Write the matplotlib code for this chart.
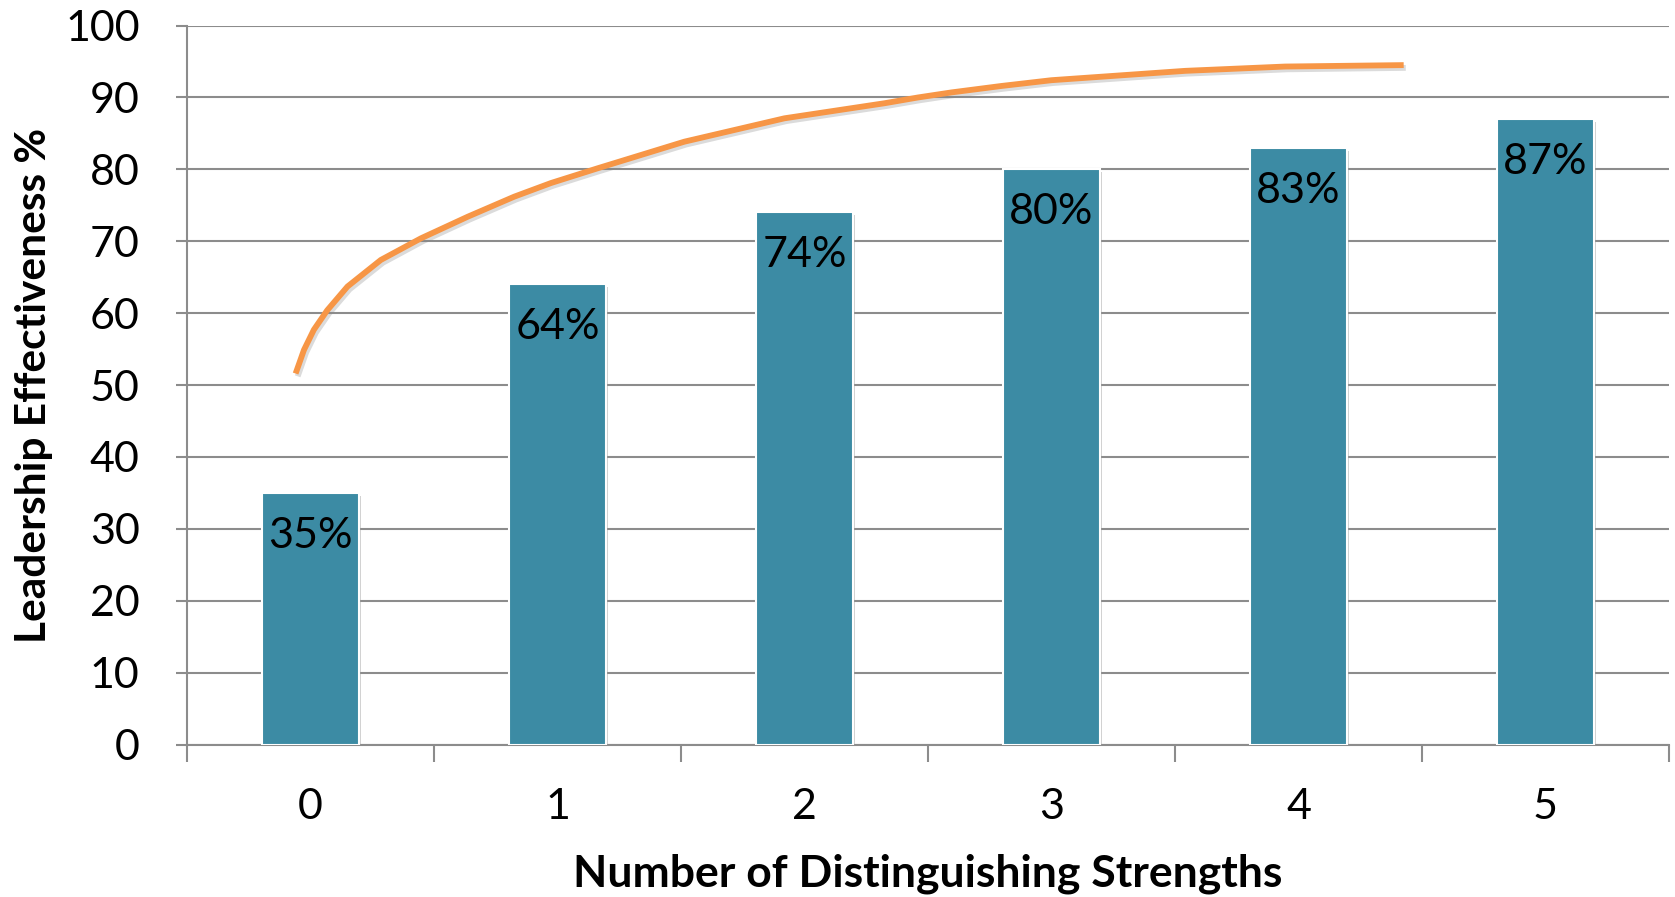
import matplotlib
matplotlib.use("Agg")
import matplotlib.pyplot as plt
import matplotlib.patheffects as pe
import numpy as np

categories = ["0", "1", "2", "3", "4", "5"]
values = [35, 64, 74, 80, 83, 87]
bar_labels = ["35%", "64%", "74%", "80%", "83%", "87%"]
yticks = [0, 10, 20, 30, 40, 50, 60, 70, 80, 90, 100]

# hand-drawn trend curve (x in category units, y in %)
curve_x = [-0.060, -0.026, 0.014, 0.068, 0.150, 0.285, 0.447, 0.636, 0.825, 0.974,
           1.163, 1.514, 1.919, 2.325, 2.460, 2.595, 2.798, 3.0, 3.541, 3.946, 4.426]
curve_y = [51.6, 54.9, 57.7, 60.4, 63.7, 67.4, 70.4, 73.4, 76.2, 78.1,
           80.15, 83.85, 87.1, 89.2, 90.0, 90.7, 91.6, 92.4, 93.7, 94.3, 94.5]

plt.rcParams['font.family'] = ['Lato', 'DejaVu Sans']

fig = plt.figure(figsize=(16.75, 8.97), dpi=100)
ax = fig.add_axes([0.1116, 0.170, 0.8848, 0.8015])

x = np.arange(len(categories))
bars = ax.bar(x, values, width=0.39, color="#3C8BA4", edgecolor="white", linewidth=1.5, zorder=3)
for b in bars:
    b.set_path_effects([pe.SimplePatchShadow(offset=(2, -2), shadow_rgbFace="#999999", alpha=0.45), pe.Normal()])

for xi, v, lab in zip(x, values, bar_labels):
    ax.text(xi, v - 3.3, lab, ha="center", va="top", fontsize=31, color="black", zorder=5)

ax.plot(curve_x, curve_y, color="#F79646", lw=4.2, solid_capstyle="butt", solid_joinstyle="round", zorder=4,
        path_effects=[pe.SimpleLineShadow(offset=(1.5, -2), shadow_color="#888888", alpha=0.3), pe.Normal()])

ax.set_xlim(-0.5, 5.5)
ax.set_ylim(0, 100)
ax.set_yticks(yticks)
ax.set_yticklabels([str(t) for t in yticks], fontsize=31)
ax.set_xticks(x)
ax.set_xticklabels(categories, fontsize=31)
ax.set_xticks(np.arange(-0.5, 6.0, 1.0), minor=True)
ax.tick_params(axis="x", which="major", length=0, pad=31)
ax.tick_params(axis="x", which="minor", length=12, width=1.5, color="#8C8C8C")
ax.tick_params(axis="y", which="major", length=8, width=1.5, color="#8C8C8C", pad=26)

ax.grid(axis="y", color="#8C8C8C", linewidth=1.5, zorder=0)
ax.set_axisbelow(True)
for s in ["top", "right"]:
    ax.spines[s].set_visible(False)
for s in ["left", "bottom"]:
    ax.spines[s].set_color("#8C8C8C")
    ax.spines[s].set_linewidth(1.5)

ax.set_xlabel("Number of Distinguishing Strengths", fontsize=32, fontweight="bold", labelpad=20)
ax.set_ylabel("Leadership Effectiveness %", fontsize=30.5, fontweight="bold", labelpad=9)

fig.savefig("out.png", dpi=100)
